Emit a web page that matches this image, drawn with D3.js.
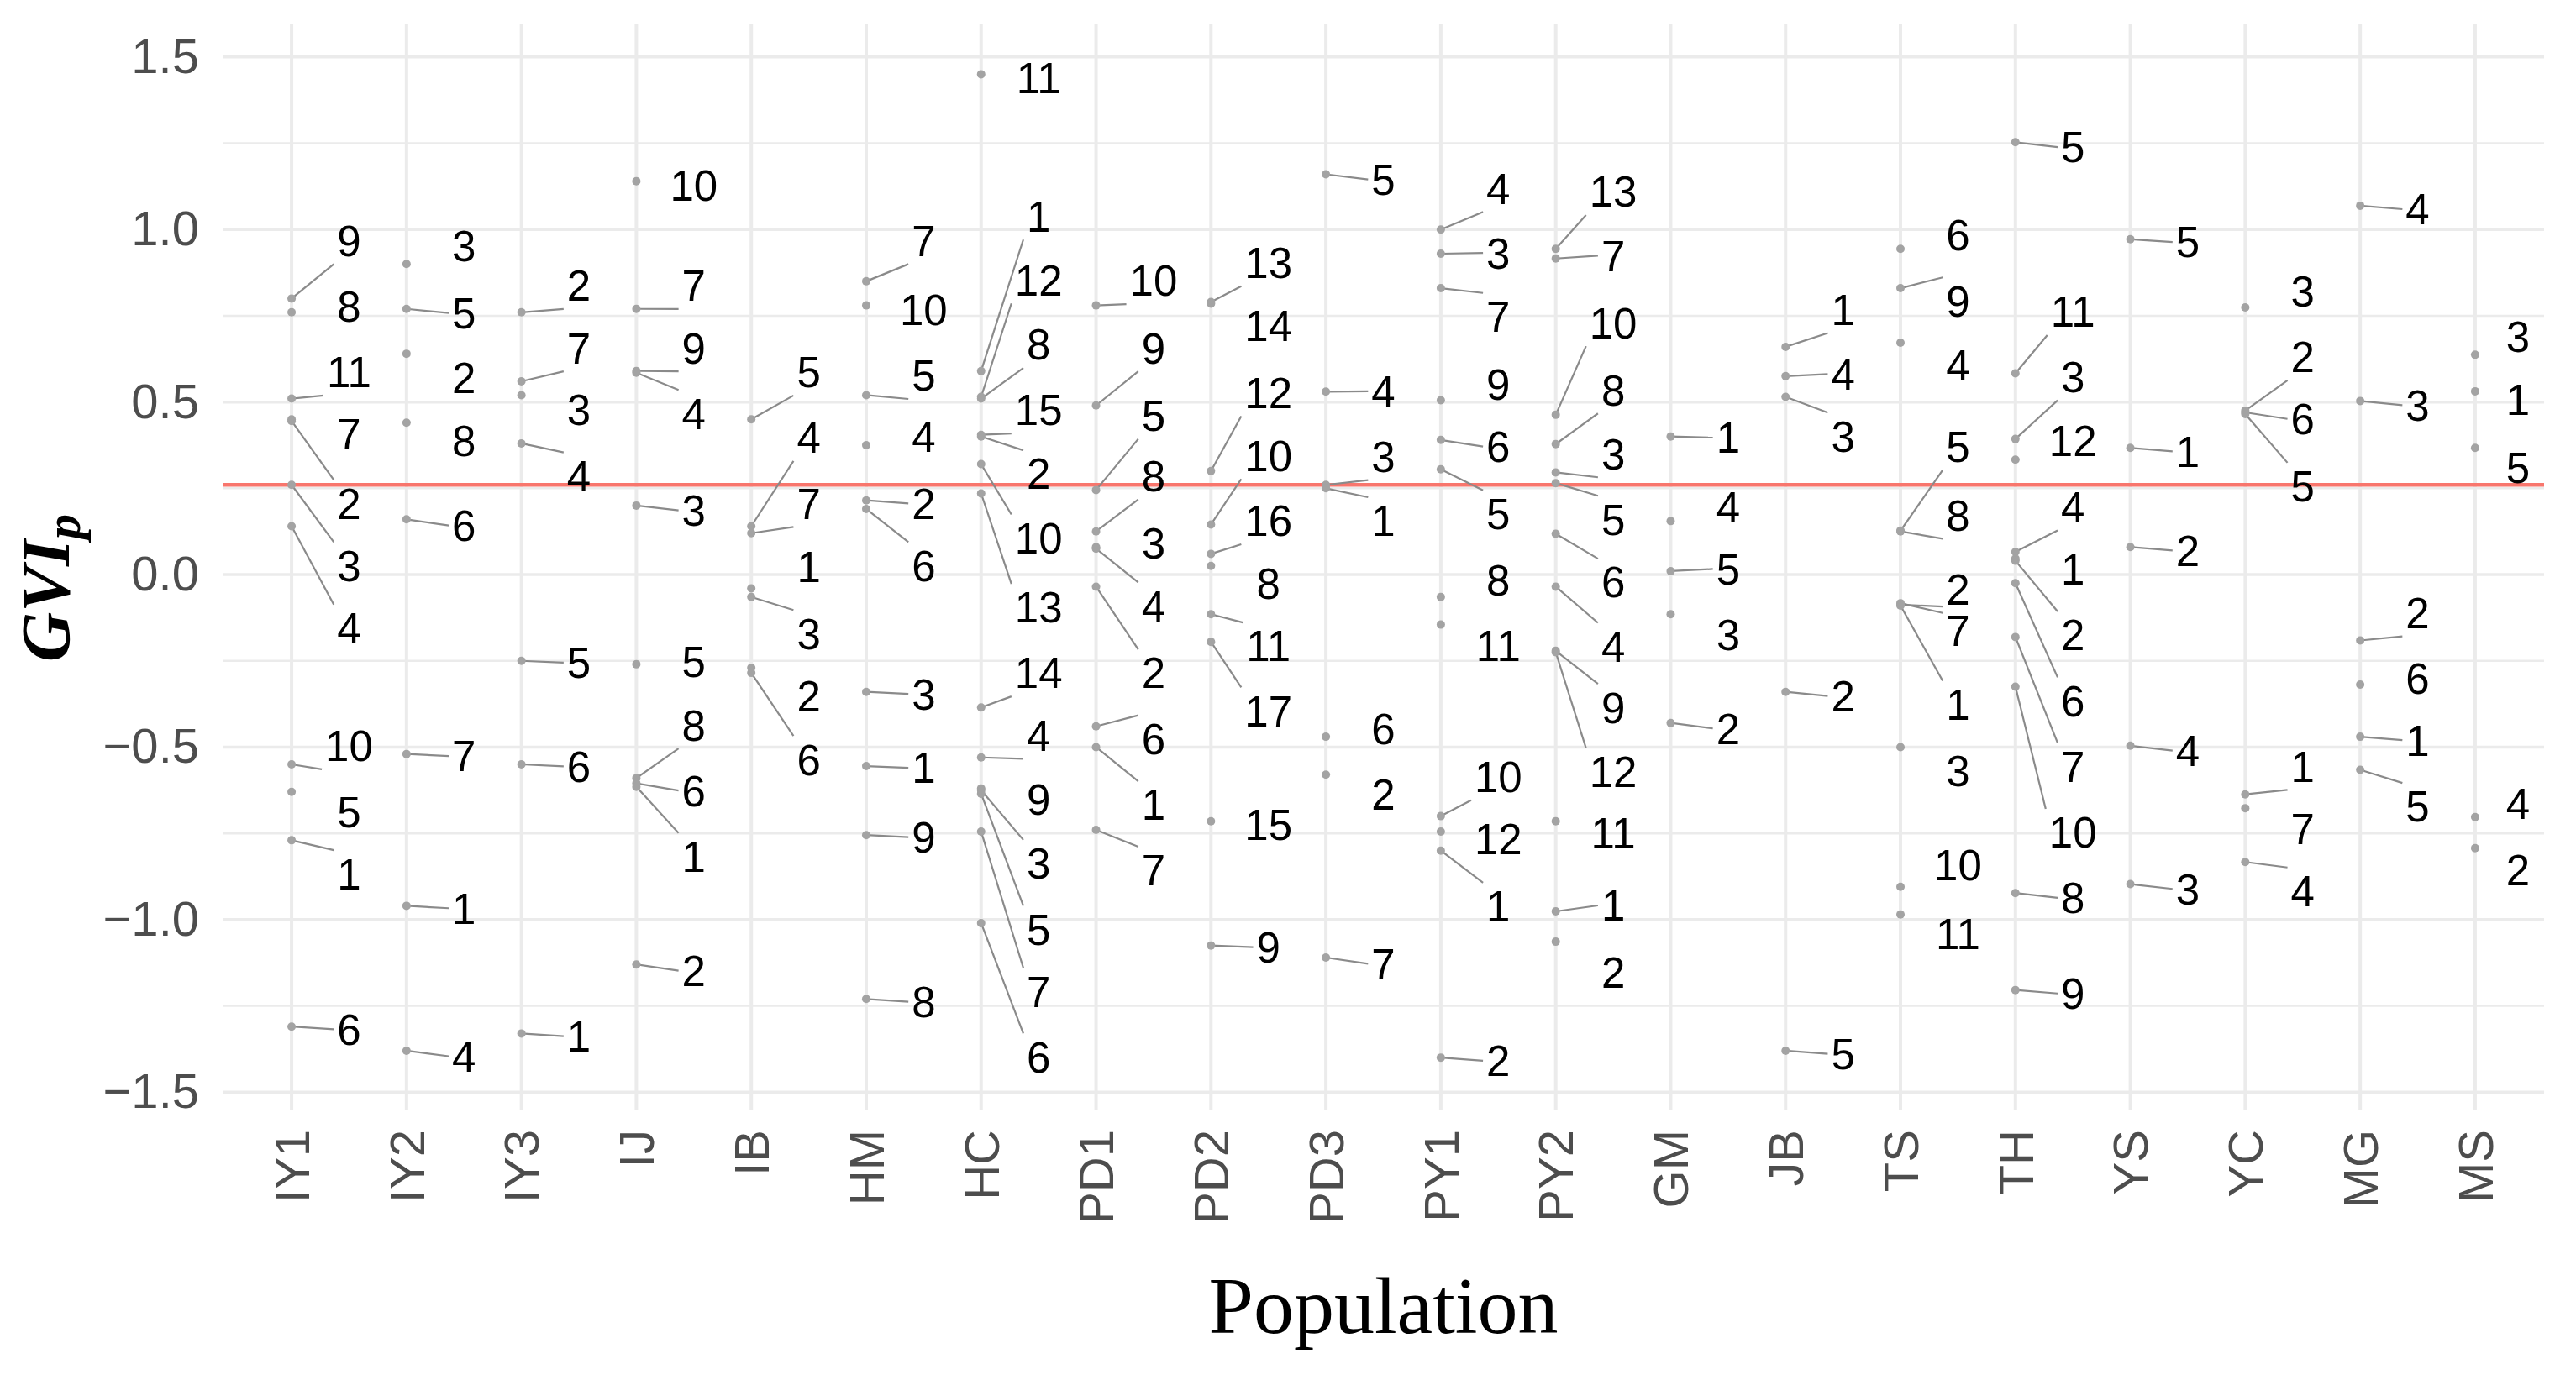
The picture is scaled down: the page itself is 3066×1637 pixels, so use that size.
<!DOCTYPE html>
<html><head><meta charset="utf-8">
<script src="https://cdn.jsdelivr.net/npm/d3@7"></script>
<style>body{margin:0;background:#fff}</style>
</head><body>
<svg id="chart" width="3066" height="1637"></svg>
<script>
const populations = ["IY1","IY2","IY3","IJ","IB","HM","HC","PD1","PD2","PD3","PY1","PY2","GM","JB","TS","TH","YS","YC","MG","MS"];

const pointIds = [
  [9,8,11,7,2,3,4,10,5,1,6],
  [3,5,2,8,6,7,1,4],
  [2,7,3,4,5,6,1],
  [10,7,9,4,3,5,8,6,1,2],
  [5,4,7,1,3,2,6],
  [7,10,5,4,2,6,3,1,9,8],
  [11,1,12,8,15,2,10,13,14,4,9,3,5,7,6],
  [10,9,5,8,3,4,2,6,1,7],
  [13,14,12,10,16,8,11,17,15,9],
  [5,4,3,1,6,2,7],
  [4,3,7,9,6,5,8,11,10,12,1,2],
  [13,7,10,8,3,5,6,4,9,12,11,1,2],
  [1,4,5,3,2],
  [1,4,3,2,5],
  [6,9,4,5,8,2,7,1,3,10,11],
  [5,11,3,12,4,1,2,6,7,10,8,9],
  [5,1,2,4,3],
  [3,2,6,5,1,7,4],
  [4,3,2,6,1,5],
  [3,1,5,4,2]
];

const gviValues = [
  [0.80,0.76,0.51,0.45,0.445,0.26,0.14,-0.55,-0.63,-0.77,-1.31],
  [0.90,0.77,0.64,0.44,0.16,-0.52,-0.96,-1.38],
  [0.76,0.56,0.52,0.38,-0.25,-0.55,-1.33],
  [1.14,0.77,0.59,0.585,0.20,-0.26,-0.59,-0.605,-0.615,-1.13],
  [0.45,0.14,0.12,-0.04,-0.065,-0.27,-0.285],
  [0.85,0.78,0.52,0.375,0.215,0.19,-0.34,-0.555,-0.755,-1.23],
  [1.45,0.59,0.515,0.51,0.405,0.40,0.32,0.235,-0.385,-0.53,-0.62,-0.625,-0.635,-0.745,-1.01],
  [0.78,0.49,0.245,0.125,0.08,0.075,-0.035,-0.44,-0.50,-0.74],
  [0.79,0.785,0.30,0.145,0.06,0.025,-0.115,-0.195,-0.715,-1.075],
  [1.16,0.53,0.26,0.25,-0.47,-0.58,-1.11],
  [1.00,0.93,0.83,0.505,0.39,0.305,-0.065,-0.145,-0.70,-0.745,-0.80,-1.40],
  [0.944,0.916,0.463,0.378,0.296,0.265,0.118,-0.035,-0.221,-0.225,-0.715,-0.976,-1.064],
  [0.40,0.155,0.01,-0.115,-0.43],
  [0.66,0.575,0.515,-0.34,-1.38],
  [0.944,0.83,0.672,0.127,0.125,-0.083,-0.087,-0.09,-0.50,-0.905,-0.985],
  [1.253,0.583,0.393,0.333,0.066,0.046,0.04,-0.025,-0.181,-0.325,-0.923,-1.204],
  [0.972,0.367,0.08,-0.496,-0.897],
  [0.774,0.475,0.47,0.465,-0.637,-0.677,-0.833],
  [1.069,0.503,-0.191,-0.319,-0.470,-0.566],
  [0.637,0.531,0.367,-0.703,-0.793]
];

// where each id label sits (GVI units) (repelled labels)
const labelValues = [
  [0.968,0.778,0.587,0.407,0.206,0.026,-0.155,-0.496,-0.687,-0.867,-1.318],
  [0.952,0.758,0.571,0.387,0.142,-0.526,-0.967,-1.396],
  [0.838,0.657,0.477,0.286,-0.255,-0.556,-1.338],
  [1.129,0.838,0.657,0.467,0.186,-0.251,-0.436,-0.626,-0.817,-1.148],
  [0.587,0.397,0.206,0.022,-0.171,-0.352,-0.536],
  [0.968,0.768,0.577,0.401,0.206,0.026,-0.346,-0.560,-0.761,-1.238],
  [1.44,1.039,0.854,0.667,0.477,0.292,0.106,-0.095,-0.285,-0.466,-0.652,-0.837,-1.028,-1.208,-1.398],
  [0.852,0.657,0.461,0.286,0.090,-0.091,-0.285,-0.476,-0.667,-0.857],
  [0.904,0.722,0.527,0.345,0.156,-0.025,-0.207,-0.395,-0.724,-1.080],
  [1.145,0.531,0.342,0.156,-0.446,-0.637,-1.128],
  [1.119,0.932,0.748,0.551,0.371,0.176,-0.015,-0.205,-0.586,-0.767,-0.961,-1.409],
  [1.110,0.924,0.730,0.535,0.350,0.160,-0.022,-0.208,-0.385,-0.571,-0.748,-0.959,-1.154],
  [0.397,0.196,0.016,-0.175,-0.446],
  [0.768,0.581,0.401,-0.352,-1.389],
  [0.985,0.793,0.608,0.371,0.172,-0.043,-0.161,-0.376,-0.568,-0.842,-1.041],
  [1.239,0.762,0.573,0.387,0.196,0.016,-0.175,-0.366,-0.556,-0.747,-0.937,-1.214],
  [0.964,0.357,0.070,-0.510,-0.911],
  [0.822,0.631,0.451,0.256,-0.556,-0.736,-0.917],
  [1.059,0.491,-0.111,-0.301,-0.480,-0.672],
  [0.691,0.507,0.311,-0.663,-0.857]
];

// whether a leader segment is visible for each label
const leaderShown = [
  [1,0,1,0,1,1,1,1,0,1,1],
  [0,1,0,0,1,1,1,1],
  [1,1,0,1,1,1,1],
  [0,1,1,1,1,0,1,1,1,1],
  [1,1,1,0,1,0,1],
  [1,0,1,0,1,1,1,1,1,1],
  [0,1,1,1,1,1,1,1,1,1,0,1,1,1,1],
  [1,1,1,1,0,1,1,1,1,1],
  [1,0,1,1,1,0,1,1,0,1],
  [1,1,1,1,0,0,1],
  [1,1,1,0,1,1,0,0,1,0,1,1],
  [1,1,1,1,1,1,1,1,1,1,0,1,0],
  [1,0,1,0,1],
  [1,1,1,1,1],
  [0,1,0,1,1,1,1,1,0,0,0],
  [1,1,1,0,1,0,1,1,1,1,1,1],
  [1,1,1,1,1],
  [0,1,1,1,1,0,1],
  [1,1,1,0,1,1],
  [0,0,0,0,0]
];

const thresholdGVI = 0.26;
const yTickValues = [-1.5,-1.0,-0.5,0,0.5,1.0,1.5];
const yMinorValues = [-1.25,-0.75,-0.25,0.25,0.75,1.25];

const W = 3066, H = 1637;
const px0 = 265, px1 = 3028, py0 = 28, py1 = 1322;
const sans = "'Liberation Sans', Arial, sans-serif";
const serif = "'Liberation Serif', 'Times New Roman', serif";

const svg = d3.select("#chart");
svg.append("rect").attr("width", W).attr("height", H).attr("fill", "#fff");

const x = d3.scalePoint().domain(populations).range([px0, px1]).padding(0.6);
const y = d3.scaleLinear().domain([-1.553, 1.597]).range([py1, py0]);

// grid
const grid = svg.append("g");
grid.selectAll("line.hmin").data(yMinorValues).join("line").attr("class","hmin")
  .attr("x1", px0).attr("x2", px1).attr("y1", d => y(d)).attr("y2", d => y(d))
  .attr("stroke", "#EBEBEB").attr("stroke-width", 2.5);
grid.selectAll("line.hmaj").data(yTickValues).join("line").attr("class","hmaj")
  .attr("x1", px0).attr("x2", px1).attr("y1", d => y(d)).attr("y2", d => y(d))
  .attr("stroke", "#EBEBEB").attr("stroke-width", 3.5);
grid.selectAll("line.v").data(populations).join("line").attr("class","v")
  .attr("x1", d => x(d)).attr("x2", d => x(d)).attr("y1", py0).attr("y2", py1)
  .attr("stroke", "#EBEBEB").attr("stroke-width", 4);

// threshold line
svg.append("line")
  .attr("x1", px0).attr("x2", px1)
  .attr("y1", y(thresholdGVI)).attr("y2", y(thresholdGVI))
  .attr("stroke", "#F8766D").attr("stroke-width", 4.5);

// axes
const gy = svg.append("g").attr("transform", `translate(${px0},0)`)
  .call(d3.axisLeft(y).tickValues(yTickValues).tickSize(0).tickPadding(28).tickFormat(d3.format(".1f")));
gy.select(".domain").remove();
gy.attr("font-size", 58).attr("font-family", sans).attr("color", "#4D4D4D");

const gx = svg.append("g").attr("transform", `translate(0,${py1})`)
  .call(d3.axisBottom(x).tickSize(0));
gx.select(".domain").remove();
gx.attr("font-size", 58).attr("font-family", sans).attr("color", "#4D4D4D");
gx.selectAll(".tick text")
  .attr("transform", "rotate(-90)")
  .attr("y", 0).attr("dy", "0.35em")
  .attr("x", -23)
  .style("text-anchor", "end");

// titles
svg.append("text")
  .attr("x", (px0 + px1) / 2).attr("y", 1587)
  .attr("text-anchor", "middle")
  .attr("font-family", serif).attr("font-size", 96).attr("fill", "#000")
  .text("Population");

const yt = svg.append("text")
  .attr("transform", "translate(82,700) rotate(-90)")
  .attr("text-anchor", "middle")
  .attr("font-family", serif).attr("font-style", "italic").attr("font-weight", "bold")
  .attr("font-size", 82).attr("fill", "#000");
yt.append("tspan").text("GVI");
yt.append("tspan").attr("dy", "0.22em").attr("font-size", 60).text("p");

// points, leaders, labels
const segLayer = svg.append("g");
const ptLayer = svg.append("g");
const lblLayer = svg.append("g");
const halfStep = x.step() * 0.5;
const hh = 28;

populations.forEach((pop, i) => {
  const cx = x(pop);
  pointIds[i].forEach((id, j) => {
    const pxv = cx, pyv = y(gviValues[i][j]);
    const t = lblLayer.append("text")
      .attr("font-family", sans).attr("font-size", 51).attr("fill", "#000")
      .attr("text-anchor", "middle").attr("dy", "0.36em")
      .text(id);
    const w = t.node().getComputedTextLength();
    let lx = cx + halfStep;
    lx = Math.min(lx, px1 - w / 2 - 17);
    const ly = y(labelValues[i][j]);
    t.attr("x", lx).attr("y", ly);

    if (leaderShown[i][j]) {
      const hw = w / 2 + 4;
      const xs = [lx - hw, lx, lx + hw], ys = [ly - hh, ly, ly + hh];
      let best = null, bd = Infinity;
      xs.forEach(ax => ys.forEach(ay => {
        if (ax === lx && ay === ly) return;
        const d = Math.hypot(ax - pxv, ay - pyv);
        if (d < bd) { bd = d; best = [ax, ay]; }
      }));
      segLayer.append("line")
        .attr("x1", pxv).attr("y1", pyv).attr("x2", best[0]).attr("y2", best[1])
        .attr("stroke", "#8A8A8A").attr("stroke-width", 2.2);
    }
    ptLayer.append("circle")
      .attr("cx", pxv).attr("cy", pyv).attr("r", 5)
      .attr("fill", "#A3A3A3");
  });
});
</script>
</body></html>
